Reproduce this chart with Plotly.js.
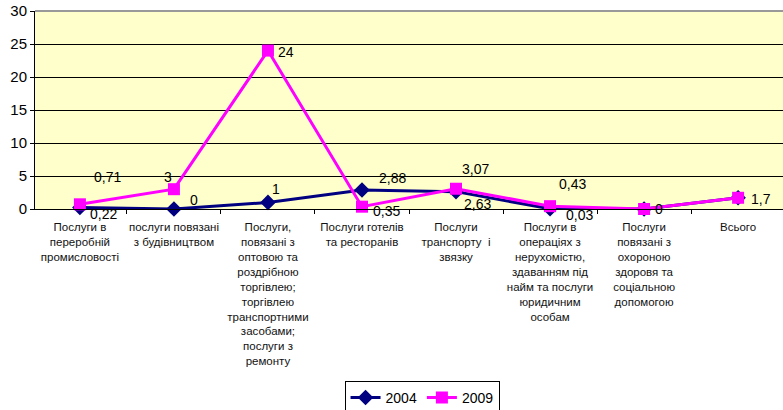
<!DOCTYPE html>
<html>
<head>
<meta charset="utf-8">
<script src="https://cdn.plot.ly/plotly-3.0.1.min.js"></script>
<style>html,body{margin:0;padding:0;background:#fff;}#chart{width:783px;height:410px;}</style>
</head>
<body>
<div id="chart"></div>
<script>
var categories = [
  "Послуги в<br>переробній<br>промисловості",
  "послуги повязані<br>з будівництвом",
  "Послуги,<br>повязані з<br>оптовою та<br>роздрібною<br>торгівлею;<br>торгівлею<br>транспортними<br>засобами;<br>послуги з<br>ремонту",
  "Послуги готелів<br>та ресторанів",
  "Послуги<br>транспорту  і<br>звязку",
  "Послуги в<br>операціях з<br>нерухомістю,<br>здаванням під<br>найм та послуги<br>юридичним<br>особам",
  "Послуги<br>повязані з<br>охороною<br>здоровя та<br>соціальною<br>допомогою",
  "Всього"
];
var values2004 = [0.22, 0, 1, 2.88, 2.63, 0.03, 0, 1.7];
var values2009 = [0.71, 3, 24, 0.35, 3.07, 0.43, 0, 1.7];
var seriesNames = ["2004", "2009"];
var yTicks = [0, 5, 10, 15, 20, 25, 30];

// label offsets in pixels (style)
var off2004 = [[24,6],[20,-9],[8,-13],[31,-12],[21,12],[29,6],null,null];
var off2009 = [[28,-27],[-6,-12],[18,1],[25,4],[19,-20],[22,-22],[15,0],[23,1]];

function fmt(v){ return String(v).replace('.', ','); }

var annotations = [];
function addLabels(vals, offs){
  vals.forEach(function(v,i){
    if(!offs[i]) return;
    annotations.push({
      x: categories[i], y: v, xref:'x', yref:'y',
      text: fmt(v), showarrow:false,
      xshift: offs[i][0], yshift: -offs[i][1],
      font:{family:'Liberation Sans, Arial, sans-serif', size:14, color:'#000'}
    });
  });
}
addLabels(values2004, off2004);
addLabels(values2009, off2009);

var traces = [
  {x: categories, y: values2004, name: seriesNames[0], type:'scatter', mode:'lines+markers',
   line:{color:'#000080', width:3}, marker:{symbol:'diamond', size:12, color:'#000080'}, cliponaxis:false},
  {x: categories, y: values2009, name: seriesNames[1], type:'scatter', mode:'lines+markers',
   line:{color:'#FF00FF', width:3}, marker:{symbol:'square', size:12, color:'#FF00FF'}, cliponaxis:false}
];

var layout = {
  width:783, height:410,
  margin:{l:35, r:0, t:11, b:201, pad:0},
  paper_bgcolor:'#ffffff', plot_bgcolor:'#FFFFCC',
  font:{family:'Liberation Sans, Arial, sans-serif', color:'#000'},
  showlegend:true,
  legend:{orientation:'h', xref:'container', yref:'container', x:0.539, xanchor:'center', y:0.071, yanchor:'top',
    bordercolor:'#000', borderwidth:1, bgcolor:'#fff',
    font:{size:14, color:'#000'}, itemwidth:30, tracegroupgap:0},
  xaxis:{type:'category', tickson:'boundaries', ticks:'outside', ticklen:4, tickcolor:'#000',
    showline:true, linecolor:'#000', linewidth:1, showgrid:false, zeroline:false, automargin:false,
    ticklabelstandoff:7,
    tickangle:0, tickfont:{size:11.5, color:'#111'}, fixedrange:true},
  yaxis:{range:[0,30], tickvals:yTicks, ticktext:yTicks.map(String), ticks:'outside', ticklen:4, tickcolor:'#000',
    showline:true, linecolor:'#000', linewidth:1, showgrid:true, gridcolor:'#000', gridwidth:1, automargin:false,
    zeroline:false, tickfont:{size:15, color:'#000'}, fixedrange:true},
  shapes:[{type:'line', xref:'paper', yref:'paper', x0:0, x1:1, y0:1, y1:1, line:{color:'#999', width:2}, layer:'above'}],
  annotations: annotations
};

Plotly.newPlot('chart', traces, layout, {displayModeBar:false, staticPlot:true});
</script>
</body>
</html>
